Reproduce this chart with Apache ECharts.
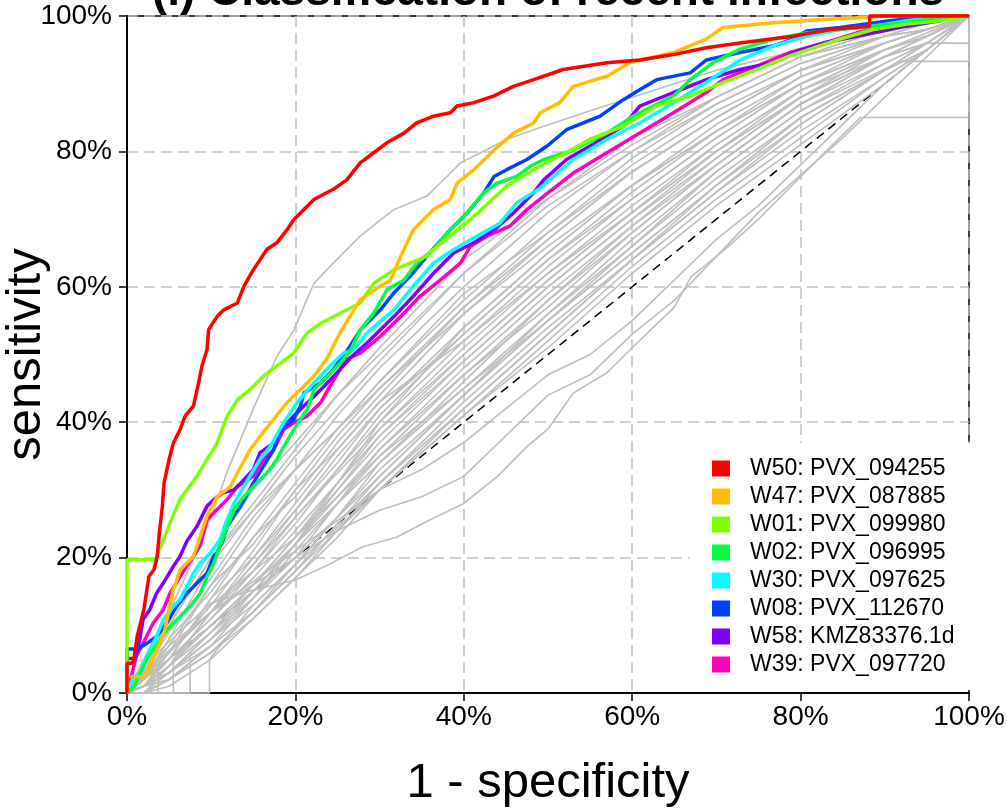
<!DOCTYPE html>
<html><head><meta charset="utf-8">
<script src="https://cdn.jsdelivr.net/npm/echarts@6/dist/echarts.min.js"></script>
<style>html,body{margin:0;padding:0;background:#fff}#c{width:1007px;height:808px}</style>
</head><body><div id="c"></div>
<script>
// ---------- data ----------
const titleText = '(i) Classification of recent infections';
const xTicks = [0, 0.2, 0.4, 0.6, 0.8, 1];
const names = ['W50: PVX_094255','W47: PVX_087885','W01: PVX_099980','W02: PVX_096995','W30: PVX_097625','W08: PVX_112670','W58: KMZ83376.1d','W39: PVX_097720'];
const colors = ['#FF0000','#FFBF00','#80FF00','#00FF40','#00FFFF','#0040FF','#8000FF','#FF00BF'];

const w50 = [[0,0],[0,0.044],[0.006,0.044],[0.008,0.049],[0.012,0.083],[0.020,0.123],[0.026,0.172],[0.032,0.182],[0.036,0.202],[0.038,0.231],[0.042,0.276],[0.044,0.310],[0.050,0.345],[0.055,0.369],[0.063,0.389],[0.069,0.409],[0.079,0.424],[0.085,0.458],[0.089,0.483],[0.095,0.507],[0.097,0.537],[0.107,0.556],[0.115,0.566],[0.131,0.576],[0.139,0.601],[0.143,0.610],[0.150,0.625],[0.158,0.640],[0.166,0.655],[0.178,0.665],[0.190,0.684],[0.198,0.699],[0.206,0.709],[0.222,0.729],[0.245,0.744],[0.261,0.758],[0.277,0.783],[0.293,0.798],[0.309,0.813],[0.329,0.827],[0.344,0.842],[0.364,0.852],[0.384,0.857],[0.392,0.867],[0.412,0.872],[0.436,0.882],[0.459,0.896],[0.483,0.906],[0.518,0.921],[0.570,0.931],[0.609,0.935],[0.649,0.943],[0.688,0.953],[0.728,0.960],[0.791,0.970],[0.835,0.980],[0.882,0.985],[0.882,1],[1,1]];
const w47 = [[0,0],[0,0.024],[0.022,0.024],[0.032,0.054],[0.044,0.088],[0.055,0.152],[0.063,0.182],[0.079,0.202],[0.087,0.231],[0.095,0.261],[0.107,0.290],[0.123,0.305],[0.131,0.325],[0.146,0.359],[0.158,0.379],[0.174,0.404],[0.190,0.429],[0.206,0.448],[0.222,0.468],[0.238,0.495],[0.253,0.532],[0.277,0.581],[0.301,0.601],[0.313,0.610],[0.325,0.645],[0.340,0.684],[0.364,0.714],[0.384,0.729],[0.392,0.753],[0.412,0.773],[0.436,0.802],[0.459,0.827],[0.483,0.842],[0.491,0.857],[0.514,0.872],[0.530,0.896],[0.570,0.911],[0.597,0.931],[0.649,0.946],[0.688,0.966],[0.708,0.983],[0.768,0.990],[0.827,0.995],[0.882,0.998],[0.9,1],[1,1]];
const w01 = [[0,0],[0,0.197],[0.033,0.197],[0.040,0.216],[0.051,0.251],[0.063,0.286],[0.071,0.300],[0.083,0.320],[0.095,0.345],[0.107,0.369],[0.119,0.409],[0.131,0.433],[0.146,0.448],[0.162,0.468],[0.182,0.487],[0.198,0.502],[0.214,0.532],[0.230,0.546],[0.253,0.561],[0.277,0.576],[0.293,0.605],[0.317,0.625],[0.336,0.635],[0.356,0.645],[0.364,0.655],[0.412,0.704],[0.451,0.749],[0.490,0.778],[0.522,0.798],[0.550,0.818],[0.589,0.837],[0.609,0.852],[0.629,0.867],[0.669,0.882],[0.708,0.902],[0.748,0.921],[0.787,0.941],[0.847,0.966],[0.886,0.980],[0.926,0.988],[0.981,0.995],[1,1]];
const w02 = [[0,0],[0.008,0.009],[0.023,0.049],[0.039,0.078],[0.051,0.098],[0.063,0.113],[0.075,0.128],[0.087,0.147],[0.095,0.172],[0.103,0.191],[0.110,0.216],[0.127,0.271],[0.139,0.290],[0.154,0.310],[0.166,0.325],[0.178,0.345],[0.186,0.364],[0.198,0.389],[0.214,0.419],[0.222,0.448],[0.238,0.468],[0.253,0.487],[0.265,0.505],[0.277,0.536],[0.293,0.561],[0.309,0.596],[0.329,0.610],[0.344,0.635],[0.364,0.655],[0.380,0.679],[0.400,0.704],[0.424,0.739],[0.439,0.753],[0.463,0.763],[0.479,0.778],[0.495,0.788],[0.530,0.802],[0.570,0.827],[0.601,0.852],[0.649,0.882],[0.669,0.906],[0.696,0.931],[0.728,0.951],[0.768,0.966],[0.807,0.975],[0.867,0.983],[0.926,0.990],[0.966,0.998],[1,1]];
const w30 = [[0,0],[0.008,0.024],[0.015,0.029],[0.025,0.059],[0.035,0.083],[0.043,0.108],[0.055,0.128],[0.063,0.138],[0.071,0.157],[0.079,0.177],[0.087,0.192],[0.099,0.207],[0.110,0.225],[0.117,0.250],[0.127,0.280],[0.142,0.312],[0.158,0.345],[0.170,0.364],[0.186,0.399],[0.202,0.429],[0.222,0.458],[0.241,0.483],[0.257,0.502],[0.269,0.507],[0.285,0.532],[0.317,0.566],[0.340,0.601],[0.364,0.635],[0.388,0.655],[0.416,0.675],[0.443,0.694],[0.463,0.724],[0.490,0.745],[0.530,0.788],[0.570,0.818],[0.609,0.842],[0.649,0.872],[0.688,0.902],[0.728,0.935],[0.768,0.956],[0.807,0.970],[0.847,0.980],[0.886,0.985],[0.926,0.993],[0.966,0.998],[1,1]];
const w08 = [[0,0],[0,0.065],[0.013,0.065],[0.023,0.073],[0.035,0.083],[0.047,0.103],[0.059,0.128],[0.071,0.147],[0.083,0.162],[0.095,0.177],[0.103,0.202],[0.107,0.207],[0.114,0.226],[0.119,0.246],[0.135,0.276],[0.150,0.310],[0.162,0.335],[0.174,0.359],[0.182,0.389],[0.198,0.404],[0.206,0.424],[0.210,0.443],[0.230,0.458],[0.245,0.478],[0.261,0.505],[0.277,0.536],[0.301,0.566],[0.317,0.591],[0.336,0.615],[0.356,0.645],[0.380,0.679],[0.404,0.709],[0.424,0.739],[0.436,0.763],[0.451,0.773],[0.475,0.788],[0.499,0.808],[0.522,0.832],[0.562,0.852],[0.589,0.876],[0.609,0.891],[0.629,0.906],[0.669,0.916],[0.688,0.935],[0.728,0.946],[0.768,0.956],[0.791,0.966],[0.807,0.978],[0.847,0.983],[0.906,0.993],[0.946,0.998],[1,1]];
const w58 = [[0,0],[0,0.051],[0.010,0.051],[0.015,0.078],[0.019,0.108],[0.027,0.123],[0.035,0.147],[0.043,0.162],[0.055,0.187],[0.063,0.202],[0.071,0.224],[0.083,0.246],[0.095,0.276],[0.107,0.290],[0.115,0.296],[0.127,0.300],[0.135,0.310],[0.150,0.330],[0.158,0.355],[0.174,0.369],[0.186,0.394],[0.206,0.419],[0.222,0.438],[0.238,0.458],[0.253,0.478],[0.267,0.497],[0.285,0.517],[0.317,0.556],[0.340,0.586],[0.364,0.620],[0.388,0.650],[0.412,0.665],[0.436,0.684],[0.459,0.709],[0.483,0.739],[0.495,0.758],[0.522,0.788],[0.550,0.808],[0.589,0.837],[0.609,0.867],[0.649,0.887],[0.688,0.906],[0.728,0.921],[0.768,0.931],[0.791,0.946],[0.827,0.960],[0.886,0.975],[0.926,0.985],[0.966,0.993],[0.977,1],[1,1]];
const w39 = [[0,0],[0.002,0.009],[0.006,0.029],[0.011,0.054],[0.021,0.078],[0.031,0.103],[0.043,0.123],[0.051,0.147],[0.063,0.172],[0.071,0.187],[0.079,0.202],[0.087,0.218],[0.095,0.256],[0.107,0.271],[0.119,0.286],[0.131,0.305],[0.150,0.320],[0.162,0.345],[0.174,0.359],[0.186,0.389],[0.198,0.399],[0.214,0.409],[0.230,0.429],[0.241,0.453],[0.253,0.478],[0.261,0.493],[0.277,0.502],[0.301,0.527],[0.325,0.556],[0.348,0.586],[0.372,0.610],[0.396,0.635],[0.408,0.660],[0.428,0.675],[0.455,0.690],[0.475,0.714],[0.495,0.734],[0.530,0.768],[0.570,0.798],[0.609,0.827],[0.649,0.857],[0.688,0.887],[0.708,0.906],[0.748,0.926],[0.787,0.946],[0.827,0.960],[0.867,0.975],[0.906,0.988],[0.946,0.995],[0.977,1],[1,1]];
const coloredData = [w50, w47, w01, w02, w30, w08, w58, w39];

// grey curves sampled on a shared x grid
const greyX = [0, 0.02, 0.05, 0.1, 0.15, 0.2, 0.25, 0.3, 0.4, 0.5, 0.6, 0.7, 0.8, 0.9, 0.95, 1];
const greyY = [
 [0,.04,.11,.21,.30,.37,.44,.51,.64,.73,.82,.88,.94,.98,.99,1],
 [0,.03,.10,.20,.28,.36,.44,.50,.62,.73,.81,.88,.94,.97,.99,1],
 [0,.02,.08,.19,.27,.35,.42,.49,.62,.72,.80,.87,.93,.97,.99,1],
 [0,.03,.09,.17,.26,.33,.41,.48,.60,.71,.80,.88,.94,.97,.98,1],
 [0,.03,.10,.20,.27,.33,.39,.45,.56,.67,.77,.85,.92,.96,.98,1],
 [0,.01,.06,.16,.25,.33,.39,.46,.58,.69,.79,.87,.93,.97,.98,1],
 [0,.02,.08,.15,.23,.31,.39,.46,.59,.68,.78,.86,.92,.96,.98,1],
 [0,.03,.07,.16,.22,.30,.38,.45,.57,.68,.77,.85,.92,.97,.98,1],
 [0,.01,.05,.14,.23,.29,.37,.44,.57,.67,.77,.85,.92,.96,.98,1],
 [0,.02,.06,.13,.21,.30,.36,.43,.52,.62,.72,.81,.89,.95,.97,1],
 [0,.01,.05,.14,.20,.28,.36,.43,.56,.66,.75,.84,.91,.96,.98,1],
 [0,.02,.07,.12,.19,.27,.35,.42,.54,.65,.75,.83,.91,.96,.98,1],
 [0,.01,.04,.12,.20,.27,.34,.42,.53,.64,.74,.83,.90,.96,.98,1],
 [0,.02,.05,.11,.18,.26,.33,.41,.53,.64,.73,.82,.90,.95,.97,1],
 [0,.01,.04,.12,.18,.25,.33,.40,.52,.63,.73,.82,.90,.95,.97,1],
 [0,.00,.02,.07,.14,.22,.31,.40,.54,.65,.75,.83,.90,.95,.97,1],
 [0,.01,.05,.11,.17,.24,.31,.39,.51,.62,.71,.81,.89,.95,.97,1],
 [0,.02,.05,.10,.16,.23,.31,.38,.50,.61,.71,.80,.89,.94,.97,1],
 [0,.01,.03,.09,.16,.23,.30,.38,.49,.60,.70,.80,.88,.94,.97,1],
 [0,.00,.04,.10,.15,.22,.30,.37,.49,.60,.70,.79,.88,.94,.97,1],
 [0,.01,.03,.08,.15,.22,.29,.36,.48,.59,.69,.79,.88,.94,.96,1],
 [0,.01,.04,.09,.14,.21,.28,.36,.47,.58,.69,.78,.87,.94,.96,1],
 [0,.00,.03,.08,.14,.20,.28,.35,.47,.57,.68,.78,.87,.93,.96,1],
 [0,.02,.06,.13,.18,.23,.29,.35,.45,.55,.65,.75,.85,.92,.96,1],
 [0,.01,.03,.08,.13,.19,.26,.34,.45,.56,.66,.77,.86,.93,.96,1],
 [0,.00,.02,.07,.12,.19,.26,.33,.44,.55,.66,.76,.85,.92,.96,1],
 [0,.01,.03,.07,.12,.18,.25,.32,.44,.55,.65,.75,.85,.92,.95,1],
 [0,.00,.02,.06,.12,.18,.25,.31,.43,.54,.64,.75,.84,.92,.95,1],
 [0,.01,.02,.06,.11,.17,.24,.31,.42,.53,.64,.74,.83,.91,.95,1],
 [0,.00,.01,.05,.11,.17,.23,.30,.41,.52,.63,.73,.82,.91,.95,1],
 [0,.00,.02,.06,.12,.18,.24,.30,.41,.51,.62,.72,.81,.90,.95,1]
];
// grey curves with steps / outliers
const greyHigh = [[0,0],[0.02,0.05],[0.05,0.12],[0.08,0.2],[0.1,0.26],[0.12,0.33],[0.15,0.42],[0.178,0.497],[0.198,0.536],[0.222,0.605],[0.245,0.635],[0.277,0.675],[0.301,0.699],[0.317,0.714],[0.356,0.734],[0.38,0.763],[0.396,0.783],[0.42,0.798],[0.451,0.818],[0.495,0.837],[0.55,0.86],[0.6,0.88],[0.7,0.92],[0.8,0.95],[0.9,0.98],[1,1]];
const greyLow1 = [[0,0],[0.01,0.02],[0.04,0.064],[0.1,0.133],[0.15,0.152],[0.2,0.167],[0.24,0.19],[0.28,0.216],[0.32,0.23],[0.36,0.256],[0.4,0.28],[0.44,0.32],[0.475,0.364],[0.5,0.39],[0.53,0.443],[0.57,0.473],[0.6,0.51],[0.65,0.57],[0.67,0.615],[0.71,0.655],[0.75,0.70],[0.79,0.75],[0.83,0.80],[0.871,0.85],[1,0.85],[1,1]];
const greyLow2 = [[0,0],[0.03,0.04],[0.1,0.12],[0.2,0.2],[0.25,0.24],[0.3,0.27],[0.35,0.29],[0.4,0.32],[0.45,0.38],[0.5,0.44],[0.55,0.47],[0.6,0.53],[0.65,0.58],[0.7,0.645],[0.75,0.71],[0.8,0.765],[0.85,0.82],[0.9,0.88],[0.95,0.94],[1,1]];
const greyLow3 = [[0,0],[0.05,0.06],[0.1,0.12],[0.2,0.21],[0.3,0.3],[0.35,0.33],[0.4,0.37],[0.45,0.42],[0.5,0.47],[0.55,0.5],[0.6,0.55],[0.65,0.61],[0.7,0.67],[0.75,0.72],[0.8,0.78],[0.85,0.84],[0.9,0.9],[1,1]];
const greyStep1 = [[0,0],[0.037,0],[0.037,0.04],[0.05,0.06],[0.1,0.12],[0.15,0.19],[0.2,0.26],[0.3,0.39],[0.4,0.5],[0.5,0.61],[0.6,0.71],[0.7,0.8],[0.8,0.88],[0.9,0.95],[1,1]];
const greyStep2 = [[0,0],[0.055,0],[0.055,0.05],[0.1,0.1],[0.15,0.16],[0.2,0.22],[0.3,0.34],[0.4,0.46],[0.5,0.58],[0.6,0.68],[0.7,0.78],[0.8,0.87],[0.9,0.94],[1,1]];
const greyStep3 = [[0,0],[0.075,0],[0.075,0.06],[0.1,0.09],[0.15,0.15],[0.2,0.2],[0.3,0.32],[0.4,0.44],[0.5,0.56],[0.6,0.67],[0.7,0.77],[0.8,0.86],[0.918,0.933],[1,0.933],[1,1]];
const greyStep4 = [[0,0],[0.098,0],[0.098,0.05],[0.15,0.13],[0.2,0.19],[0.3,0.3],[0.4,0.42],[0.5,0.53],[0.6,0.64],[0.7,0.74],[0.8,0.84],[0.9,0.92],[0.95,0.96],[1,0.96],[1,1]];
const greyExtra = [greyHigh, greyLow1, greyLow2, greyLow3, greyStep1, greyStep2, greyStep3, greyStep4];
const diagonal = [[0,0],[1,1]];

// ---------- chart ----------
const FONT = '"Liberation Sans", Arial, Helvetica, sans-serif';
const chart = echarts.init(document.getElementById('c'), null, {renderer:'canvas'});
const series = [];
series.push({type:'line', name:'diag', data:diagonal, symbol:'none', silent:true, clip:false,
  lineStyle:{color:'#000', width:1.5, type:[9,6]}});
const greyStyle = {color:'#BEBEBE', width:1.6};
greyY.forEach((ys,i)=>{
  series.push({type:'line', name:'grey'+i, data: greyX.map((x,j)=>[x, ys[j]]), symbol:'none', silent:true, clip:false,
    lineStyle:greyStyle, color:'#BEBEBE'});
});
greyExtra.forEach((d,i)=>{
  series.push({type:'line', name:'greyx'+i, data:d, symbol:'none', silent:true, clip:false,
    lineStyle:greyStyle, color:'#BEBEBE'});
});
for (let i = coloredData.length-1; i>=0; i--) {
  series.push({type:'line', name:names[i], data:coloredData[i], symbol:'none', clip:false,
    color:colors[i], itemStyle:{color:colors[i]}, lineStyle:{color:colors[i], width:3.5}});
}
const pct = v => Math.round(v*100)+'%';
chart.setOption({
  animation:false,
  backgroundColor:'#fff',
  grid:{left:127, right:38, top:16, bottom:115, containLabel:false, outerBoundsMode:'none',
    show:true, borderColor:'#000', borderWidth:1.5, backgroundColor:'transparent'},
  graphic:[{type:'text', x:548, y:15, z:10, style:{text:titleText, fill:'#000', font:'bold 46px '+FONT, textAlign:'center', textVerticalAlign:'bottom'}}],
  xAxis:{type:'value', min:0, max:1, interval:0.2,
    axisLine:{show:true, lineStyle:{color:'#000', width:2}},
    axisTick:{show:true, length:8, lineStyle:{color:'#000', width:1.5}},
    axisLabel:{formatter:pct, fontSize:28, color:'#000', fontFamily:FONT, margin:10},
    splitLine:{show:true, lineStyle:{color:'#C0C0C0', width:1.5, type:[11,6]}},
    name:'1 - specificity', nameLocation:'middle', nameGap:66, nameMoveOverlap:false,
    nameTextStyle:{fontSize:49, color:'#000', fontFamily:FONT}},
  yAxis:{type:'value', min:0, max:1, interval:0.2,
    axisLine:{show:true, lineStyle:{color:'#000', width:2}},
    axisTick:{show:true, length:8, lineStyle:{color:'#000', width:1.5}},
    axisLabel:{formatter:pct, fontSize:28, color:'#000', fontFamily:FONT, margin:15},
    splitLine:{show:true, lineStyle:{color:'#C0C0C0', width:1.5, type:[11,6]}},
    name:'sensitivity', nameLocation:'middle', nameGap:76, nameRotate:90, nameMoveOverlap:false,
    nameTextStyle:{fontSize:49, color:'#000', fontFamily:FONT}},
  legend:{data:names, orient:'vertical', left:690, top:443, icon:'rect', itemWidth:18, itemHeight:16, itemGap:5,
    padding:[14,18,14,22], backgroundColor:'#fff', selectedMode:false,
    textStyle:{fontSize:23, lineHeight:23, color:'#000', fontFamily:FONT, padding:[0,0,0,15]}},
  series:series
});
</script></body></html>
